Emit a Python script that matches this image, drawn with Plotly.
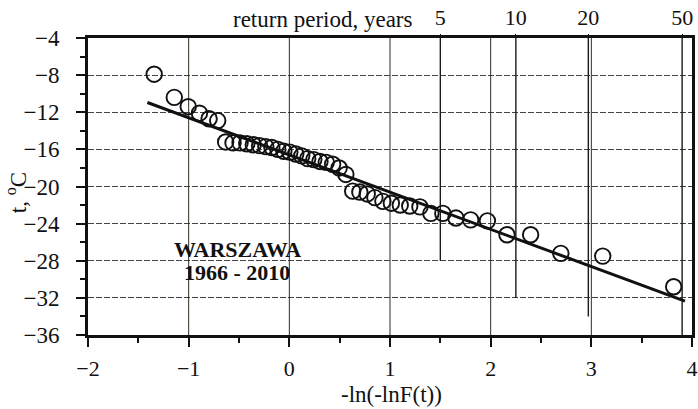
import plotly.graph_objects as go
import math

# Gumbel reduced variate -ln(-ln F) of plotting positions (n = 45)
reduced_variate = [-1.3425, -1.1428, -1.0043, -0.8930, -0.7972, -0.7115, -0.6328, -0.5592,
                   -0.4895, -0.4227, -0.3582, -0.2954, -0.2340, -0.1736, -0.1139, -0.0546,
                   0.0046, 0.0637, 0.1231, 0.1828, 0.2432, 0.3044, 0.3665, 0.4298,
                   0.4947, 0.5613, 0.6296, 0.7003, 0.7737, 0.8500, 0.9297, 1.0136,
                   1.1019, 1.1963, 1.2972, 1.4061, 1.5248, 1.6550, 1.8013, 1.9676,
                   2.1619, 2.3970, 2.6968, 3.1133, 3.8180]
temperature = [-7.9, -10.4, -11.4, -12.1, -12.7, -12.9, -15.2, -15.3,
               -15.3, -15.4, -15.5, -15.6, -15.7, -15.8, -16.0, -16.2,
               -16.3, -16.5, -16.7, -17.0, -17.1, -17.3, -17.4, -17.6,
               -18.0, -18.7, -20.5, -20.6, -20.8, -21.2, -21.6, -21.8,
               -22.0, -22.1, -22.2, -22.9, -22.9, -23.4, -23.6, -23.7,
               -25.2, -25.2, -27.2, -27.5, -30.8]

fit_x = [-1.41, 3.93]
fit_t = [-10.95, -32.35]

return_periods = [5, 10, 20, 50]
return_period_labels = ["5", "10", "20", "50"]
return_line_bottom = [-28, -32, -34, -36]

x_ticks = [-2, -1, 0, 1, 2, 3, 4]
y_ticks = [-4, -8, -12, -16, -20, -24, -28, -32, -36]

FONT = "Liberation Serif"


def fmt(v):
    return ("\u2212" + str(-v)) if v < 0 else str(v)


rp_x = [-math.log(-math.log(1 - 1 / T)) for T in return_periods]

fig = go.Figure()

# vertical grid lines at integer x
vx, vy = [], []
for xv in x_ticks[1:-1]:
    vx += [xv, xv, None]
    vy += [-4, -36, None]
fig.add_trace(go.Scatter(x=vx, y=vy, mode="lines",
                         line=dict(color="#2e2e22", width=1), hoverinfo="skip",
                         showlegend=False))

# return-period lines
rx, ry = [], []
for xv, yb in zip(rp_x, return_line_bottom):
    rx += [xv, xv, None]
    ry += [-4, yb, None]
fig.add_trace(go.Scatter(x=rx, y=ry, mode="lines",
                         line=dict(color="#1a1a1a", width=1.4), hoverinfo="skip",
                         showlegend=False))

# fitted line
fig.add_trace(go.Scatter(x=fit_x, y=fit_t, mode="lines",
                         line=dict(color="#111", width=3), showlegend=False))

# data points
fig.add_trace(go.Scatter(x=reduced_variate, y=temperature, mode="markers",
                         marker=dict(symbol="circle-open", size=15.5,
                                     color="#111", line=dict(width=1.9, color="#111")),
                         showlegend=False))

# dummy trace for top axis
fig.add_trace(go.Scatter(x=[rp_x[0]], y=[-4], xaxis="x2", mode="markers",
                         marker=dict(opacity=0), showlegend=False, hoverinfo="skip"))

fig.update_layout(
    width=698, height=409,
    margin=dict(l=88, r=6, t=38, b=74),
    paper_bgcolor="white", plot_bgcolor="white",
    font=dict(family=FONT, size=22, color="#111"),
    xaxis=dict(range=[-2, 4], tickvals=x_ticks, ticktext=[fmt(v) for v in x_ticks],
               showgrid=False, zeroline=False, automargin=False,
               ticks="outside", ticklen=9, tickwidth=2, tickcolor="#111",
               ticklabelstandoff=3,
               showline=True, linewidth=3, linecolor="#111", mirror=True,
               minor=dict(dtick=0.5, tick0=0, ticks="outside", ticklen=5,
                          tickwidth=2, tickcolor="#111", showgrid=False),
               tickfont=dict(size=22, family=FONT)),
    xaxis2=dict(range=[-2, 4], overlaying="x", side="top", tickvals=rp_x,
                ticktext=return_period_labels, showgrid=False, zeroline=False,
                automargin=False,
                ticks="outside", ticklen=3, tickwidth=1.4, tickcolor="#111",
                showline=False, tickfont=dict(size=22, family=FONT)),
    yaxis=dict(range=[-36, -4], tickvals=y_ticks, ticktext=[fmt(v) for v in y_ticks],
               showgrid=True, gridcolor="#444", gridwidth=1, griddash="6px,2px",
               zeroline=False, automargin=False,
               ticks="outside", ticklen=9, tickwidth=2, tickcolor="#111",
               ticklabelstandoff=12,
               showline=True, linewidth=3, linecolor="#111", mirror=True,
               minor=dict(dtick=2, tick0=0, ticks="outside", ticklen=5,
                          tickwidth=2, tickcolor="#111", showgrid=False),
               tickfont=dict(size=23, family=FONT)),
    annotations=[
        dict(text="WARSZAWA", x=-0.51, y=-26.8, xref="x", yref="y", showarrow=False,
             xanchor="center", yanchor="middle",
             font=dict(family=FONT, size=22, color="#111", weight="bold")),
        dict(text="1966 - 2010", x=-0.52, y=-29.3, xref="x", yref="y", showarrow=False,
             xanchor="center", yanchor="middle",
             font=dict(family=FONT, size=22, color="#111", weight="bold")),
        dict(text="-ln(-lnF(t))", x=0.503, y=-0.199, xref="paper", yref="paper",
             xanchor="center", yanchor="middle",
             showarrow=False, font=dict(family=FONT, size=23)),
        dict(text="t, <sup>o</sup>C", x=-0.118, y=0.48, xref="paper", yref="paper",
             xanchor="center", yanchor="middle",
             textangle=-90, showarrow=False, font=dict(family=FONT, size=23)),
        dict(text="return period, years", x=0.389, y=1.061, xref="paper", yref="paper",
             xanchor="center", yanchor="middle",
             showarrow=False, font=dict(family=FONT, size=23)),
    ],
)

fig.write_html("out.html", post_script="document.body.style.margin='0';",
               config={"displayModeBar": False})
